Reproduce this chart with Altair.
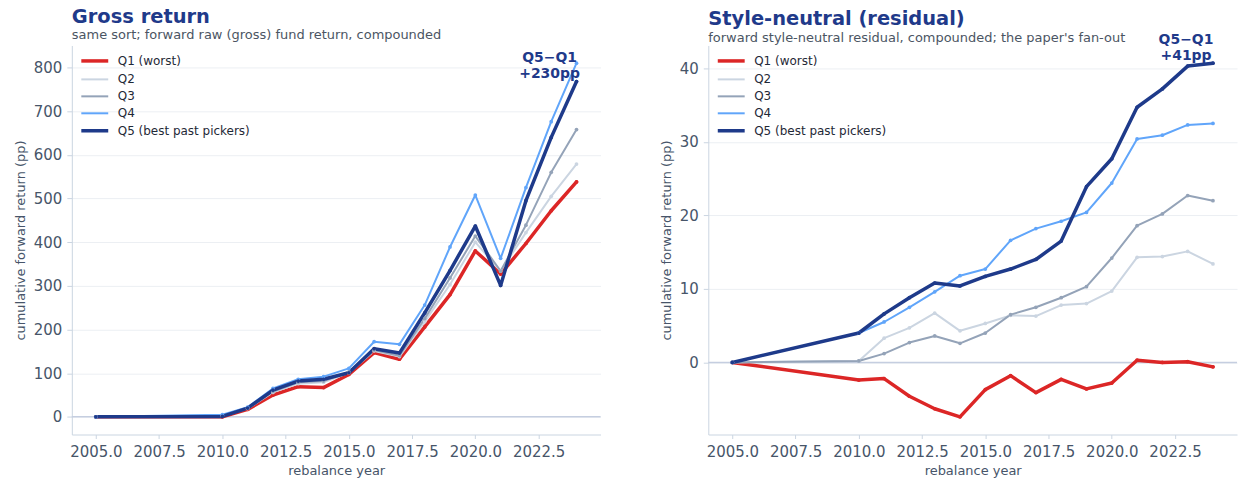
import altair as alt
import pandas as pd

# Rebalance years (2005 is the base point, then annual from 2010)
years = [2005, 2010, 2011, 2012, 2013, 2014, 2015, 2016, 2017,
         2018, 2019, 2020, 2021, 2022, 2023, 2024]

quintiles = ["Q1 (worst)", "Q2", "Q3", "Q4", "Q5 (best past pickers)"]
colors = ["#dc2626", "#cbd5e1", "#94a3b8", "#60a5fa", "#1e3a8a"]
widths = [3.5, 2.0, 2.0, 2.0, 3.5]

# Cumulative forward gross return by quintile (pp)
gross_q1 = [0, 0, 17, 50, 69, 67, 97, 147, 132, 206, 280, 380, 327, 397, 472, 538]
gross_q2 = [0, 2, 19, 56, 76, 79, 101, 151, 138, 218, 303, 400, 334, 422, 505, 579]
gross_q3 = [0, 3, 20, 58, 79, 82, 103, 153, 140, 225, 318, 414, 334, 439, 560, 658]
gross_q4 = [0, 5, 22, 65, 86, 92, 111, 172, 166, 256, 389, 508, 363, 525, 676, 810]
gross_q5 = [0, 1, 20, 61, 82, 86, 101, 156, 146, 238, 335, 437, 301, 495, 640, 768]

# Cumulative forward style-neutral residual by quintile (pp)
resid_q1 = [0, -2.4, -2.2, -4.6, -6.3, -7.4, -3.7, -1.8, -4.1, -2.3, -3.6, -2.8, 0.3, 0.0, 0.1, -0.6]
resid_q2 = [0, 0.2, 3.3, 4.7, 6.7, 4.3, 5.3, 6.4, 6.3, 7.8, 8.0, 9.7, 14.3, 14.4, 15.1, 13.4]
resid_q3 = [0, 0.2, 1.2, 2.7, 3.6, 2.6, 4.0, 6.5, 7.5, 8.8, 10.3, 14.2, 18.6, 20.2, 22.7, 22.0]
resid_q4 = [0, 4.0, 5.5, 7.5, 9.6, 11.8, 12.7, 16.6, 18.2, 19.2, 20.4, 24.4, 30.4, 30.9, 32.3, 32.5]
resid_q5 = [0, 4.0, 6.6, 8.8, 10.8, 10.4, 11.7, 12.7, 14.0, 16.5, 23.9, 27.7, 34.7, 37.2, 40.3, 40.7]

x_ticks = [2005, 2007.5, 2010, 2012.5, 2015, 2017.5, 2020, 2022.5]
FONT = "DejaVu Sans"
NAVY = "#1f3a8a"


def long_frame(series):
    rows = []
    for name, vals in zip(quintiles, series):
        for yr, v in zip(years, vals):
            rows.append({"year": yr, "value": v, "quintile": name})
    return pd.DataFrame(rows)


def quintile_legend():
    # a short horizontal stroke, drawn wider than its nominal symbol size
    return alt.Legend(title=None, orient="none", legendX=14.5, legendY=7,
                      symbolType="M-2,0L2,0", symbolSize=182,
                      labelFontSize=12, labelColor="#1f2937", labelFont=FONT,
                      rowPadding=3, labelOffset=14.5)


def panel(series, title, subtitle, y_ticks, title_offset):
    df = long_frame(series)
    lo = min(min(s) for s in series)
    hi = max(max(s) for s in series)
    pad = (hi - lo) * 0.05
    xpad = (years[-1] - years[0]) * 0.05

    x = alt.X("year:Q",
              scale=alt.Scale(domain=[years[0] - xpad, years[-1] + xpad], nice=False, zero=False),
              axis=alt.Axis(values=x_ticks, format=".1f", title="rebalance year", grid=False))
    y = alt.Y("value:Q",
              scale=alt.Scale(domain=[lo - pad, hi + pad], nice=False, zero=False),
              axis=alt.Axis(values=y_ticks, title="cumulative forward return (pp)", grid=True))

    zero = alt.Chart(pd.DataFrame({"value": [0]})).mark_rule(
        color="#c5cee0", strokeWidth=1.5
    ).encode(y=alt.Y("value:Q"))

    lines = alt.Chart(df).mark_line(strokeCap="round", strokeJoin="round").encode(
        x=x, y=y,
        color=alt.Color("quintile:N", scale=alt.Scale(domain=quintiles, range=colors),
                        legend=quintile_legend()),
        strokeWidth=alt.StrokeWidth("quintile:N",
                                    scale=alt.Scale(type="ordinal", domain=quintiles, range=widths),
                                    legend=quintile_legend()),
        order=alt.Order("year:Q"),
    )

    points = alt.Chart(df).mark_circle(size=14, opacity=1).encode(
        x="year:Q", y="value:Q",
        color=alt.Color("quintile:N", scale=alt.Scale(domain=quintiles, range=colors), legend=None),
    )

    # Q5-Q1 spread at the last rebalance, written next to the Q5 end point
    spread = series[4][-1] - series[0][-1]
    note_df = pd.DataFrame({
        "year": [years[-1]],
        "value": [series[4][-1]],
        "label": [["Q5\u2212Q1", f"+{round(spread)}pp"]],
    })
    note = alt.Chart(note_df).mark_text(
        align="center", baseline="bottom", dx=-27, dy=-16.5,
        fontSize=14, fontWeight="bold", color=NAVY, font=FONT, lineHeight=16,
    ).encode(x="year:Q", y="value:Q", text="label")

    return alt.layer(zero, lines, points, note).properties(
        width=530, height=390,
        title=alt.TitleParams(text=title, subtitle=subtitle, anchor="start", frame="group",
                              fontSize=19.5, fontWeight="bold", color=NAVY, font=FONT,
                              subtitleFont=FONT, subtitleFontSize=13, subtitleColor="#4b5563",
                              offset=title_offset, subtitlePadding=2),
    )


left = panel([gross_q1, gross_q2, gross_q3, gross_q4, gross_q5],
             "Gross return",
             "same sort; forward raw (gross) fund return, compounded",
             [0, 100, 200, 300, 400, 500, 600, 700, 800], 2.5)
# the spread label here rises above the plot top, so the title sits closer to it
right = panel([resid_q1, resid_q2, resid_q3, resid_q4, resid_q5],
              "Style-neutral (residual)",
              "forward style-neutral residual, compounded; the paper's fan-out",
              [0, 10, 20, 30, 40], -13)

chart = alt.hconcat(left, right, spacing=58).resolve_scale(
    color="independent", strokeWidth="independent"
).properties(
    padding={"left": 14, "right": 0, "top": 6, "bottom": 2}
).configure_view(stroke=None).configure_axis(
    labelFont=FONT, titleFont=FONT, labelFontSize=15, titleFontSize=13,
    labelColor="#475569", titleColor="#475569", titleFontWeight="normal",
    domainColor="#cbd5e1", tickColor="#cbd5e1", gridColor="#eceff3",
    titlePadding=6,
).configure_axisX(tickSize=4, labelPadding=6, titlePadding=5).configure_axisY(
    tickSize=5, labelPadding=5
)

chart.save("out.html", embed_options={"renderer": "svg", "actions": False})
